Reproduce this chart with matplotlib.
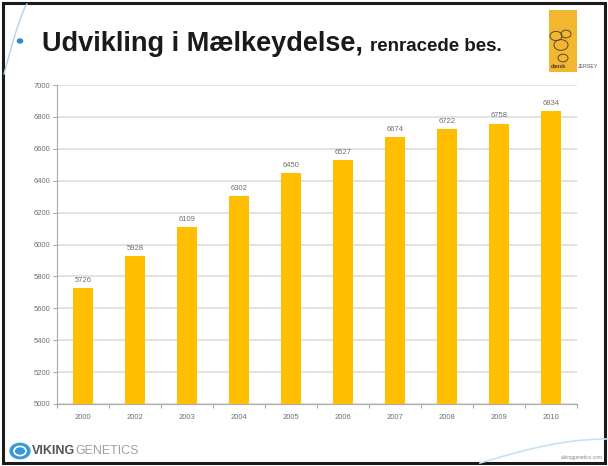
import matplotlib
matplotlib.use("Agg")
import matplotlib.pyplot as plt
import numpy as np
from matplotlib.patches import Rectangle, Circle
from matplotlib.lines import Line2D

plt.rcParams["font.family"] = ["Liberation Sans", "DejaVu Sans"]

years = ["2000", "2002", "2003", "2004", "2005", "2006", "2007", "2008", "2009", "2010"]
milk_yield = [5726, 5928, 6109, 6302, 6450, 6527, 6674, 6722, 6758, 6834]
y_ticks = [5000, 5200, 5400, 5600, 5800, 6000, 6200, 6400, 6600, 6800, 7000]

W, H = 608, 466
BAR_COLOR = "#FFBF00"
TEXT_GREY = "#707070"

fig = plt.figure(figsize=(W / 100, H / 100), dpi=100)
fig.patch.set_facecolor("white")


def fx(px):
    return px / W


def fy(py):
    return 1 - py / H


# slide frame
fig.patches.append(Rectangle((fx(3), fy(463)), fx(602), 460 / H, transform=fig.transFigure,
                             fill=False, edgecolor="#1a1a1a", linewidth=2.2))

# decorative arcs
t = np.linspace(0, 1, 50)
arc_x = 27 - 23 * t ** 0.8
arc_y = 4 + 70 * t
fig.lines.append(Line2D(fx(arc_x), fy(arc_y), transform=fig.transFigure, color="#a9d4ec", linewidth=1.0))
arc2_x = 480 + 128 * t
arc2_y = 463 - 24 * np.sin(t * np.pi / 2)
fig.lines.append(Line2D(fx(arc2_x), fy(arc2_y), transform=fig.transFigure, color="#c6e3f3", linewidth=1.2))

# title with bullet
fig.patches.append(Circle((fx(20), fy(41)), 2.6 / W, transform=fig.transFigure, color="#2b8ad6"))
title = fig.text(fx(42), fy(51), "Udvikling i Mælkeydelse,", fontsize=19.5, fontweight="bold",
                 color="#1a1a1a", va="baseline")
renderer = fig.canvas.get_renderer()
bb = title.get_window_extent(renderer)
fig.text(bb.x1 / W + fx(7), fy(51), "renracede bes.", fontsize=13.5, fontweight="bold",
         color="#1a1a1a", va="baseline")

# jersey logo block
fig.patches.append(Rectangle((fx(549), fy(72)), fx(28), 62 / H, transform=fig.transFigure,
                             facecolor="#F2B630", edgecolor="none"))
for cx, cy, r in [(556, 36, 6), (566, 34, 5), (561, 45, 7), (563, 58, 5)]:
    fig.patches.append(Circle((fx(cx), fy(cy)), r / W, transform=fig.transFigure,
                              fill=False, edgecolor="#5a4a2a", linewidth=0.7))
fig.text(fx(551), fy(67), "dansk", fontsize=3.8, fontweight="bold", color="#4a3a1a", va="center")
fig.text(fx(578), fy(67), "JERSEY", fontsize=3.8, color="#555555", va="center")

# bar chart
ax = fig.add_axes([fx(57), fy(404), fx(520), 319 / H])
x = np.arange(len(years))
bars = ax.bar(x, milk_yield, width=0.4, color=BAR_COLOR, zorder=3)
ax.bar_label(bars, labels=[str(v) for v in milk_yield], padding=3, fontsize=5.5, color=TEXT_GREY)

ax.set_xlim(-0.5, len(years) - 0.5)
ax.set_ylim(y_ticks[0], y_ticks[-1])
ax.set_yticks(y_ticks)
ax.set_yticklabels([str(v) for v in y_ticks])
ax.set_xticks(x)
ax.set_xticklabels(years)
ax.set_xticks(np.arange(-0.5, len(years)), minor=True)
ax.tick_params(axis="x", which="major", length=0, pad=7, labelsize=5.5, labelcolor=TEXT_GREY)
ax.tick_params(axis="x", which="minor", length=3, color="#aaaaaa", width=0.8)
ax.tick_params(axis="y", length=3, color="#aaaaaa", width=0.8, pad=2, labelsize=5.5,
               labelcolor=TEXT_GREY)
ax.grid(axis="y", color="#e2e2e2", linewidth=1.4, zorder=0)
for side in ["top", "right"]:
    ax.spines[side].set_visible(False)
for side in ["left", "bottom"]:
    ax.spines[side].set_color("#b0b0b0")
    ax.spines[side].set_linewidth(0.9)

# footer logo
fig.patches.append(Circle((fx(20), fy(451)), 10 / W, transform=fig.transFigure, color="#3a98d8"))
fig.patches.append(Circle((fx(20), fy(451)), 6 / W, transform=fig.transFigure, fill=False,
                          edgecolor="white", linewidth=1.2))
viking = fig.text(fx(32), fy(451), "VIKING", fontsize=9, fontweight="bold", color="#555555", va="center")
vb = viking.get_window_extent(renderer)
fig.text(vb.x1 / W, fy(451), "GENETICS", fontsize=9, color="#a0a0a0", va="center")
fig.text(fx(603), fy(458), "vikinggenetics.com", fontsize=3.5, color="#888888", ha="right", va="center")

fig.savefig("out.png", dpi=100)
